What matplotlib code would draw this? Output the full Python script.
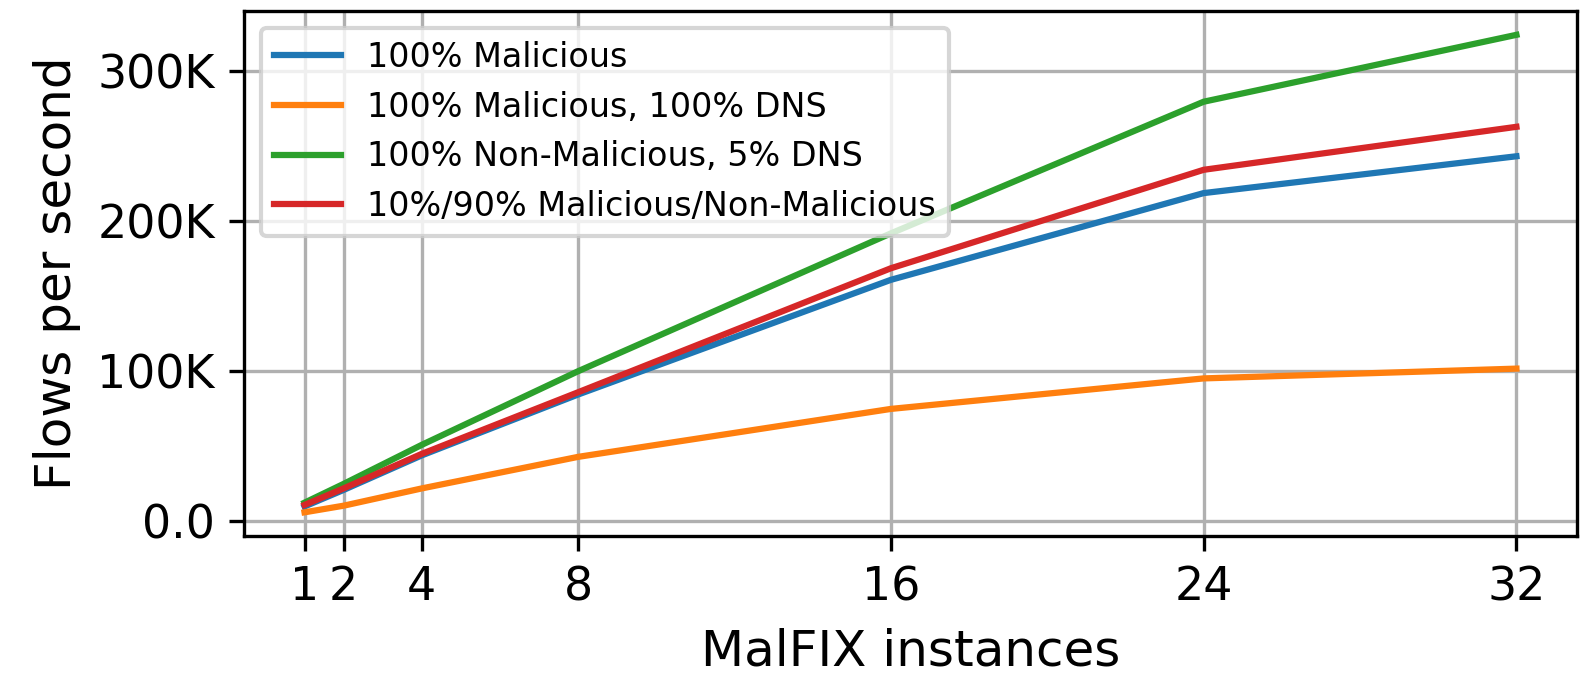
import numpy as np
import matplotlib
matplotlib.use("Agg")
import matplotlib.pyplot as plt
from matplotlib.ticker import FuncFormatter

instances = [1, 2, 4, 8, 16, 24, 32]
labels = ["100% Malicious",
          "100% Malicious, 100% DNS",
          "100% Non-Malicious, 5% DNS",
          "10%/90% Malicious/Non-Malicious"]
mal = [10000, 21000, 44000, 84500, 160800, 218500, 243000]
mal_dns = [6100, 10500, 22000, 43000, 74900, 95200, 101700]
nonmal_dns = [12500, 25000, 51000, 100000, 191700, 279300, 323800]
mixed = [11000, 22000, 45000, 86000, 168500, 234000, 262600]

def kfmt(v, pos):
    if v == 0:
        return "0.0"
    return "%dK" % int(round(v / 1000))

fig, ax = plt.subplots(figsize=(5.28, 2.2567), dpi=300)
fig.subplots_adjust(left=0.154, right=0.9956, bottom=0.208, top=0.9838)

for ys, lab in zip([mal, mal_dns, nonmal_dns, mixed], labels):
    ax.plot(instances, ys, label=lab)

ax.set_xticks(instances)
ax.yaxis.set_major_locator(plt.MultipleLocator(100000))
ax.yaxis.set_major_formatter(FuncFormatter(kfmt))
ax.tick_params(labelsize=11)
ax.set_xlabel("MalFIX instances", fontsize=12)
ax.set_ylabel("Flows per second", fontsize=12)
ax.grid(True)
ax.legend(loc="upper left", fontsize=8)

fig.savefig("out.png", dpi=300)
